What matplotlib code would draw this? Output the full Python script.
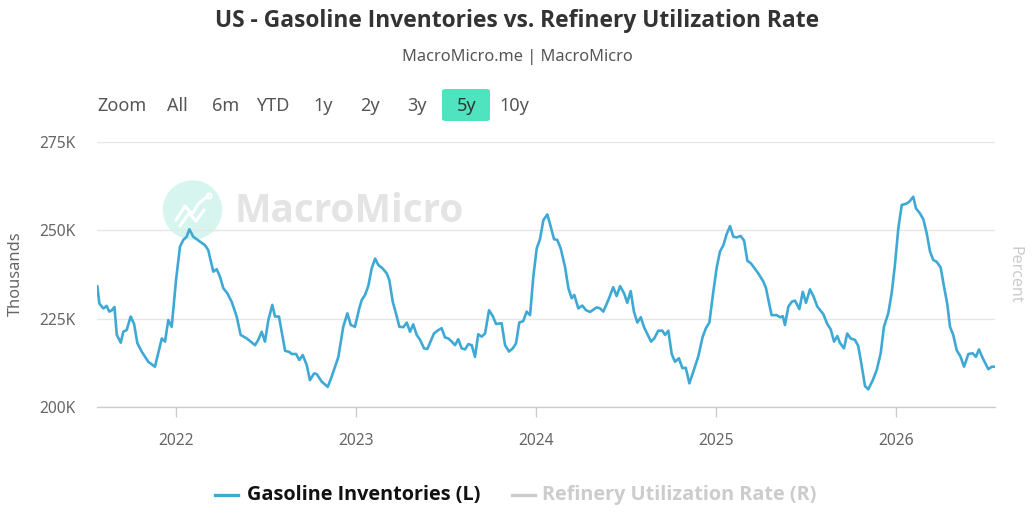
import matplotlib
matplotlib.use("Agg")
import matplotlib.pyplot as plt
from matplotlib import font_manager as fm
from matplotlib.ticker import FuncFormatter, FixedLocator
from matplotlib.patches import FancyBboxPatch, Circle
from matplotlib.lines import Line2D

# ---------------- data ----------------
t_year = [
    2021.563, 2021.574, 2021.596, 2021.615, 2021.629, 2021.644, 2021.658, 2021.671,
    2021.693, 2021.707, 2021.726, 2021.748, 2021.767, 2021.785, 2021.809, 2021.846,
    2021.883, 2021.921, 2021.939, 2021.957, 2021.976, 2022.000, 2022.022, 2022.041,
    2022.059, 2022.074, 2022.096, 2022.133, 2022.161, 2022.179, 2022.207, 2022.226,
    2022.244, 2022.263, 2022.285, 2022.309, 2022.337, 2022.359, 2022.393, 2022.439,
    2022.457, 2022.476, 2022.494, 2022.513, 2022.535, 2022.550, 2022.572, 2022.587,
    2022.606, 2022.629, 2022.643, 2022.667, 2022.685, 2022.704, 2022.726, 2022.744,
    2022.767, 2022.782, 2022.809, 2022.843, 2022.865, 2022.902, 2022.929, 2022.952,
    2022.971, 2022.994, 2023.018, 2023.032, 2023.050, 2023.068, 2023.087, 2023.106,
    2023.124, 2023.148, 2023.171, 2023.185, 2023.204, 2023.222, 2023.241, 2023.263,
    2023.282, 2023.300, 2023.318, 2023.337, 2023.356, 2023.378, 2023.396, 2023.433,
    2023.452, 2023.476, 2023.494, 2023.513, 2023.532, 2023.550, 2023.568, 2023.587,
    2023.606, 2023.624, 2023.643, 2023.661, 2023.679, 2023.698, 2023.717, 2023.739,
    2023.760, 2023.778, 2023.809, 2023.828, 2023.850, 2023.871, 2023.889, 2023.907,
    2023.929, 2023.948, 2023.967, 2023.985, 2024.004, 2024.022, 2024.041, 2024.063,
    2024.082, 2024.100, 2024.118, 2024.137, 2024.161, 2024.180, 2024.198, 2024.213,
    2024.235, 2024.257, 2024.278, 2024.300, 2024.337, 2024.356, 2024.374, 2024.402,
    2024.429, 2024.448, 2024.467, 2024.489, 2024.507, 2024.526, 2024.544, 2024.563,
    2024.582, 2024.600, 2024.618, 2024.639, 2024.657, 2024.679, 2024.702, 2024.717,
    2024.735, 2024.754, 2024.772, 2024.794, 2024.813, 2024.832, 2024.852, 2024.874,
    2024.902, 2024.926, 2024.944, 2024.963, 2024.985, 2025.004, 2025.022, 2025.041,
    2025.059, 2025.078, 2025.096, 2025.115, 2025.137, 2025.156, 2025.174, 2025.193,
    2025.211, 2025.235, 2025.263, 2025.278, 2025.291, 2025.309, 2025.337, 2025.356,
    2025.371, 2025.383, 2025.402, 2025.421, 2025.439, 2025.463, 2025.482, 2025.500,
    2025.522, 2025.541, 2025.563, 2025.596, 2025.618, 2025.637, 2025.656, 2025.674,
    2025.689, 2025.711, 2025.729, 2025.748, 2025.772, 2025.790, 2025.804, 2025.828,
    2025.846, 2025.871, 2025.893, 2025.915, 2025.933, 2025.957, 2025.976, 2025.994,
    2026.013, 2026.032, 2026.056, 2026.074, 2026.096, 2026.111, 2026.133, 2026.152,
    2026.171, 2026.189, 2026.207, 2026.226, 2026.248, 2026.267, 2026.285, 2026.300,
    2026.318, 2026.337, 2026.359, 2026.378, 2026.402, 2026.426, 2026.444, 2026.461,
    2026.482, 2026.513, 2026.532, 2026.550,
]
gasoline_k = [
    234.2, 229.3, 227.9, 228.6, 227.0, 227.4, 228.3, 220.4,
    218.2, 221.3, 221.8, 225.6, 223.5, 218.1, 215.7, 212.8,
    211.4, 219.4, 218.5, 224.6, 222.7, 235.9, 245.4, 247.3,
    248.2, 250.3, 248.2, 246.8, 245.8, 244.4, 238.3, 239.0,
    236.9, 233.6, 232.2, 229.8, 225.6, 220.4, 219.4, 217.5,
    219.0, 221.3, 218.5, 224.6, 228.9, 225.6, 225.6, 221.3,
    215.9, 215.6, 215.0, 215.0, 213.3, 214.7, 211.9, 207.6,
    209.5, 209.3, 207.2, 205.7, 208.6, 214.2, 222.7, 226.5,
    223.2, 222.7, 227.9, 230.3, 231.7, 234.2, 239.2, 242.0,
    240.2, 239.2, 237.8, 235.9, 229.8, 226.5, 222.7, 222.6,
    223.9, 221.3, 223.4, 220.4, 219.0, 216.6, 216.4, 220.8,
    221.6, 222.3, 219.7, 219.4, 218.5, 217.5, 219.2, 216.6,
    216.3, 217.8, 217.5, 214.2, 220.6, 219.9, 220.8, 227.4,
    225.7, 223.5, 223.7, 217.5, 215.7, 216.6, 218.0, 223.9,
    224.3, 227.0, 226.0, 236.9, 244.9, 247.5, 252.9, 254.5,
    251.0, 247.5, 247.3, 244.9, 239.7, 233.6, 230.8, 231.7,
    227.9, 228.7, 227.4, 226.9, 228.2, 227.9, 227.0, 230.3,
    233.9, 231.4, 234.2, 232.2, 229.5, 232.8, 227.0, 223.9,
    225.4, 222.6, 220.7, 218.5, 219.4, 221.6, 221.6, 220.4,
    221.6, 215.0, 212.8, 213.8, 211.0, 211.1, 206.7, 210.0,
    214.4, 219.9, 222.3, 223.9, 232.6, 239.5, 244.0, 245.8,
    248.9, 251.2, 248.2, 248.0, 248.4, 247.1, 241.4, 240.7,
    239.5, 237.8, 235.5, 233.6, 230.3, 226.0, 226.0, 225.4,
    225.7, 223.2, 228.4, 229.8, 230.1, 227.7, 232.6, 229.5,
    233.3, 231.4, 228.4, 226.3, 223.5, 222.0, 218.5, 220.1,
    218.1, 216.6, 220.8, 219.4, 219.0, 217.3, 213.3, 205.9,
    205.0, 207.6, 210.5, 215.2, 222.7, 226.5, 232.2, 240.2,
    250.6, 257.2, 257.5, 258.1, 259.5, 256.2, 254.8, 253.1,
    249.1, 244.0, 241.6, 241.1, 239.5, 234.0, 229.1, 222.7,
    220.4, 216.1, 214.2, 211.4, 215.0, 215.2, 214.2, 216.3,
    213.8, 210.7, 211.4, 211.4,
]
x_range = [2021.561, 2026.55]
year_ticks = [2022, 2023, 2024, 2025, 2026]
y_ticks = [200, 225, 250, 275]

title = "US - Gasoline Inventories vs. Refinery Utilization Rate"
subtitle = "MacroMicro.me | MacroMicro"
range_buttons = ["Zoom", "All", "6m", "YTD", "1y", "2y", "3y", "5y", "10y"]
active_button = "5y"
legend_labels = ["Gasoline Inventories (L)", "Refinery Utilization Rate (R)"]
left_axis_title = "Thousands"
right_axis_title = "Percent"
watermark = "MacroMicro"


# ---------------- fonts ----------------
def _has_bold(family):
    for f in fm.fontManager.ttflist:
        if f.name != family:
            continue
        w = f.weight
        if isinstance(w, str):
            w = fm.weight_dict.get(w, 400)
        if w >= 600:
            return True
    return False


REG_FAMILY = 'Noto Sans'
BOLD_FAMILY = next((f for f in ['Noto Sans', 'Open Sans', 'Roboto', 'Lato',
                                'Liberation Sans', 'DejaVu Sans'] if _has_bold(f)),
                   'DejaVu Sans')
plt.rcParams['font.family'] = [REG_FAMILY, 'DejaVu Sans']

# ---------------- styles ----------------
LINE_BLUE = '#3fa9d6'
TEXT_GRAY = '#666666'
GRID = '#e6e6e6'
BTN_GREEN = '#50e3bf'

W, H = 1035, 520
fig = plt.figure(figsize=(W / 100, H / 100), dpi=100)
fig.patch.set_facecolor('white')


def fx(px):
    return px / W


def fy(py):
    return 1 - py / H


# ---------------- main axes ----------------
ax = fig.add_axes([fx(97), fy(407), fx(995) - fx(97), fy(142) - fy(407)])
ax.plot(t_year, gasoline_k, color=LINE_BLUE, lw=1.9, solid_joinstyle='round',
        solid_capstyle='round', zorder=3)
ax.set_xlim(*x_range)
ax.set_ylim(y_ticks[0], y_ticks[-1])

ax.yaxis.set_major_locator(FixedLocator(y_ticks))
ax.yaxis.set_major_formatter(FuncFormatter(lambda v, p: f"{int(v)}K"))
ax.xaxis.set_major_locator(FixedLocator(year_ticks))
ax.xaxis.set_major_formatter(FuncFormatter(lambda v, p: f"{int(round(v))}"))

ax.grid(axis='y', color=GRID, lw=1.0, zorder=0)
ax.set_axisbelow(True)
for s in ['top', 'right', 'left']:
    ax.spines[s].set_visible(False)
ax.spines['bottom'].set_color('#cccccc')
ax.spines['bottom'].set_linewidth(1.0)
ax.tick_params(axis='y', length=0, pad=15.5, labelsize=11.2, labelcolor=TEXT_GRAY)
ax.tick_params(axis='x', length=7.2, width=1.0, color='#cccccc', pad=11.5,
               labelsize=11.2, labelcolor=TEXT_GRAY)

# ---------------- watermark ----------------
wm_ax = fig.add_axes([0, 0, 1, 1], zorder=0)
wm_ax.set_xlim(0, W)
wm_ax.set_ylim(H, 0)
wm_ax.axis('off')
wm_ax.add_patch(Circle((192.5, 210), 29, color='#d6f5ee', zorder=0))
wm_ax.plot([176, 185, 192, 199, 208], [220, 206, 214, 203, 196], color='white',
           lw=2.2, solid_capstyle='round', zorder=1)
wm_ax.plot([180, 189, 196, 204], [226, 213, 221, 210], color='white',
           lw=2.2, solid_capstyle='round', zorder=1)
wm_ax.add_patch(Circle((209, 196), 2.5, facecolor='none', edgecolor='white',
                       lw=1.5, zorder=1))
wm_ax.text(234, 212, watermark, fontsize=27.8, fontweight='bold',
           family=[BOLD_FAMILY, 'DejaVu Sans'],
           color='#e4e4e4', ha='left', va='center', zorder=0)
ax.set_zorder(2)
ax.patch.set_alpha(0)

# ---------------- header ----------------
fig.text(0.5, fy(21), title, ha='center', va='center', fontsize=16.4,
         fontweight='bold', family=[BOLD_FAMILY, 'DejaVu Sans'], color='#333333')
fig.text(0.5, fy(57), subtitle, ha='center', va='center', fontsize=11.8,
         color='#555555')

btn_x = [97, 167, 212, 256, 313, 360, 407, 457, 499]
for label, bx in zip(range_buttons, btn_x):
    fig.text(fx(bx), fy(106), label, ha='left', va='center', fontsize=13,
             color='#555555' if label != active_button else '#333333', zorder=3)
    if label == active_button:
        fig.patches.append(FancyBboxPatch(
            (fx(442), fy(121)), fx(490) - fx(442), fy(89) - fy(121),
            boxstyle='round,pad=0,rounding_size=0.004', transform=fig.transFigure,
            facecolor=BTN_GREEN, edgecolor='none', zorder=1))

# ---------------- axis titles ----------------
fig.text(fx(16), fy(274), left_axis_title, rotation=90, ha='center', va='center',
         fontsize=11.8, color=TEXT_GRAY)
fig.text(fx(1015), fy(275), right_axis_title, rotation=270, ha='center',
         va='center', fontsize=11.5, color='#cccccc')

# ---------------- legend ----------------
fig.lines.append(Line2D([fx(215), fx(238)], [fy(495), fy(495)],
                        transform=fig.transFigure, color=LINE_BLUE, lw=2.4))
fig.text(fx(247), fy(495), legend_labels[0], ha='left', va='center', fontsize=14.3,
         fontweight='bold', family=[BOLD_FAMILY, 'DejaVu Sans'], color='#111111')
fig.lines.append(Line2D([fx(512), fx(535)], [fy(495), fy(495)],
                        transform=fig.transFigure, color='#cccccc', lw=2.4))
fig.text(fx(542), fy(495), legend_labels[1], ha='left', va='center', fontsize=14.3,
         fontweight='bold', family=[BOLD_FAMILY, 'DejaVu Sans'], color='#cccccc')

fig.savefig('out.png', dpi=100, facecolor='white')
